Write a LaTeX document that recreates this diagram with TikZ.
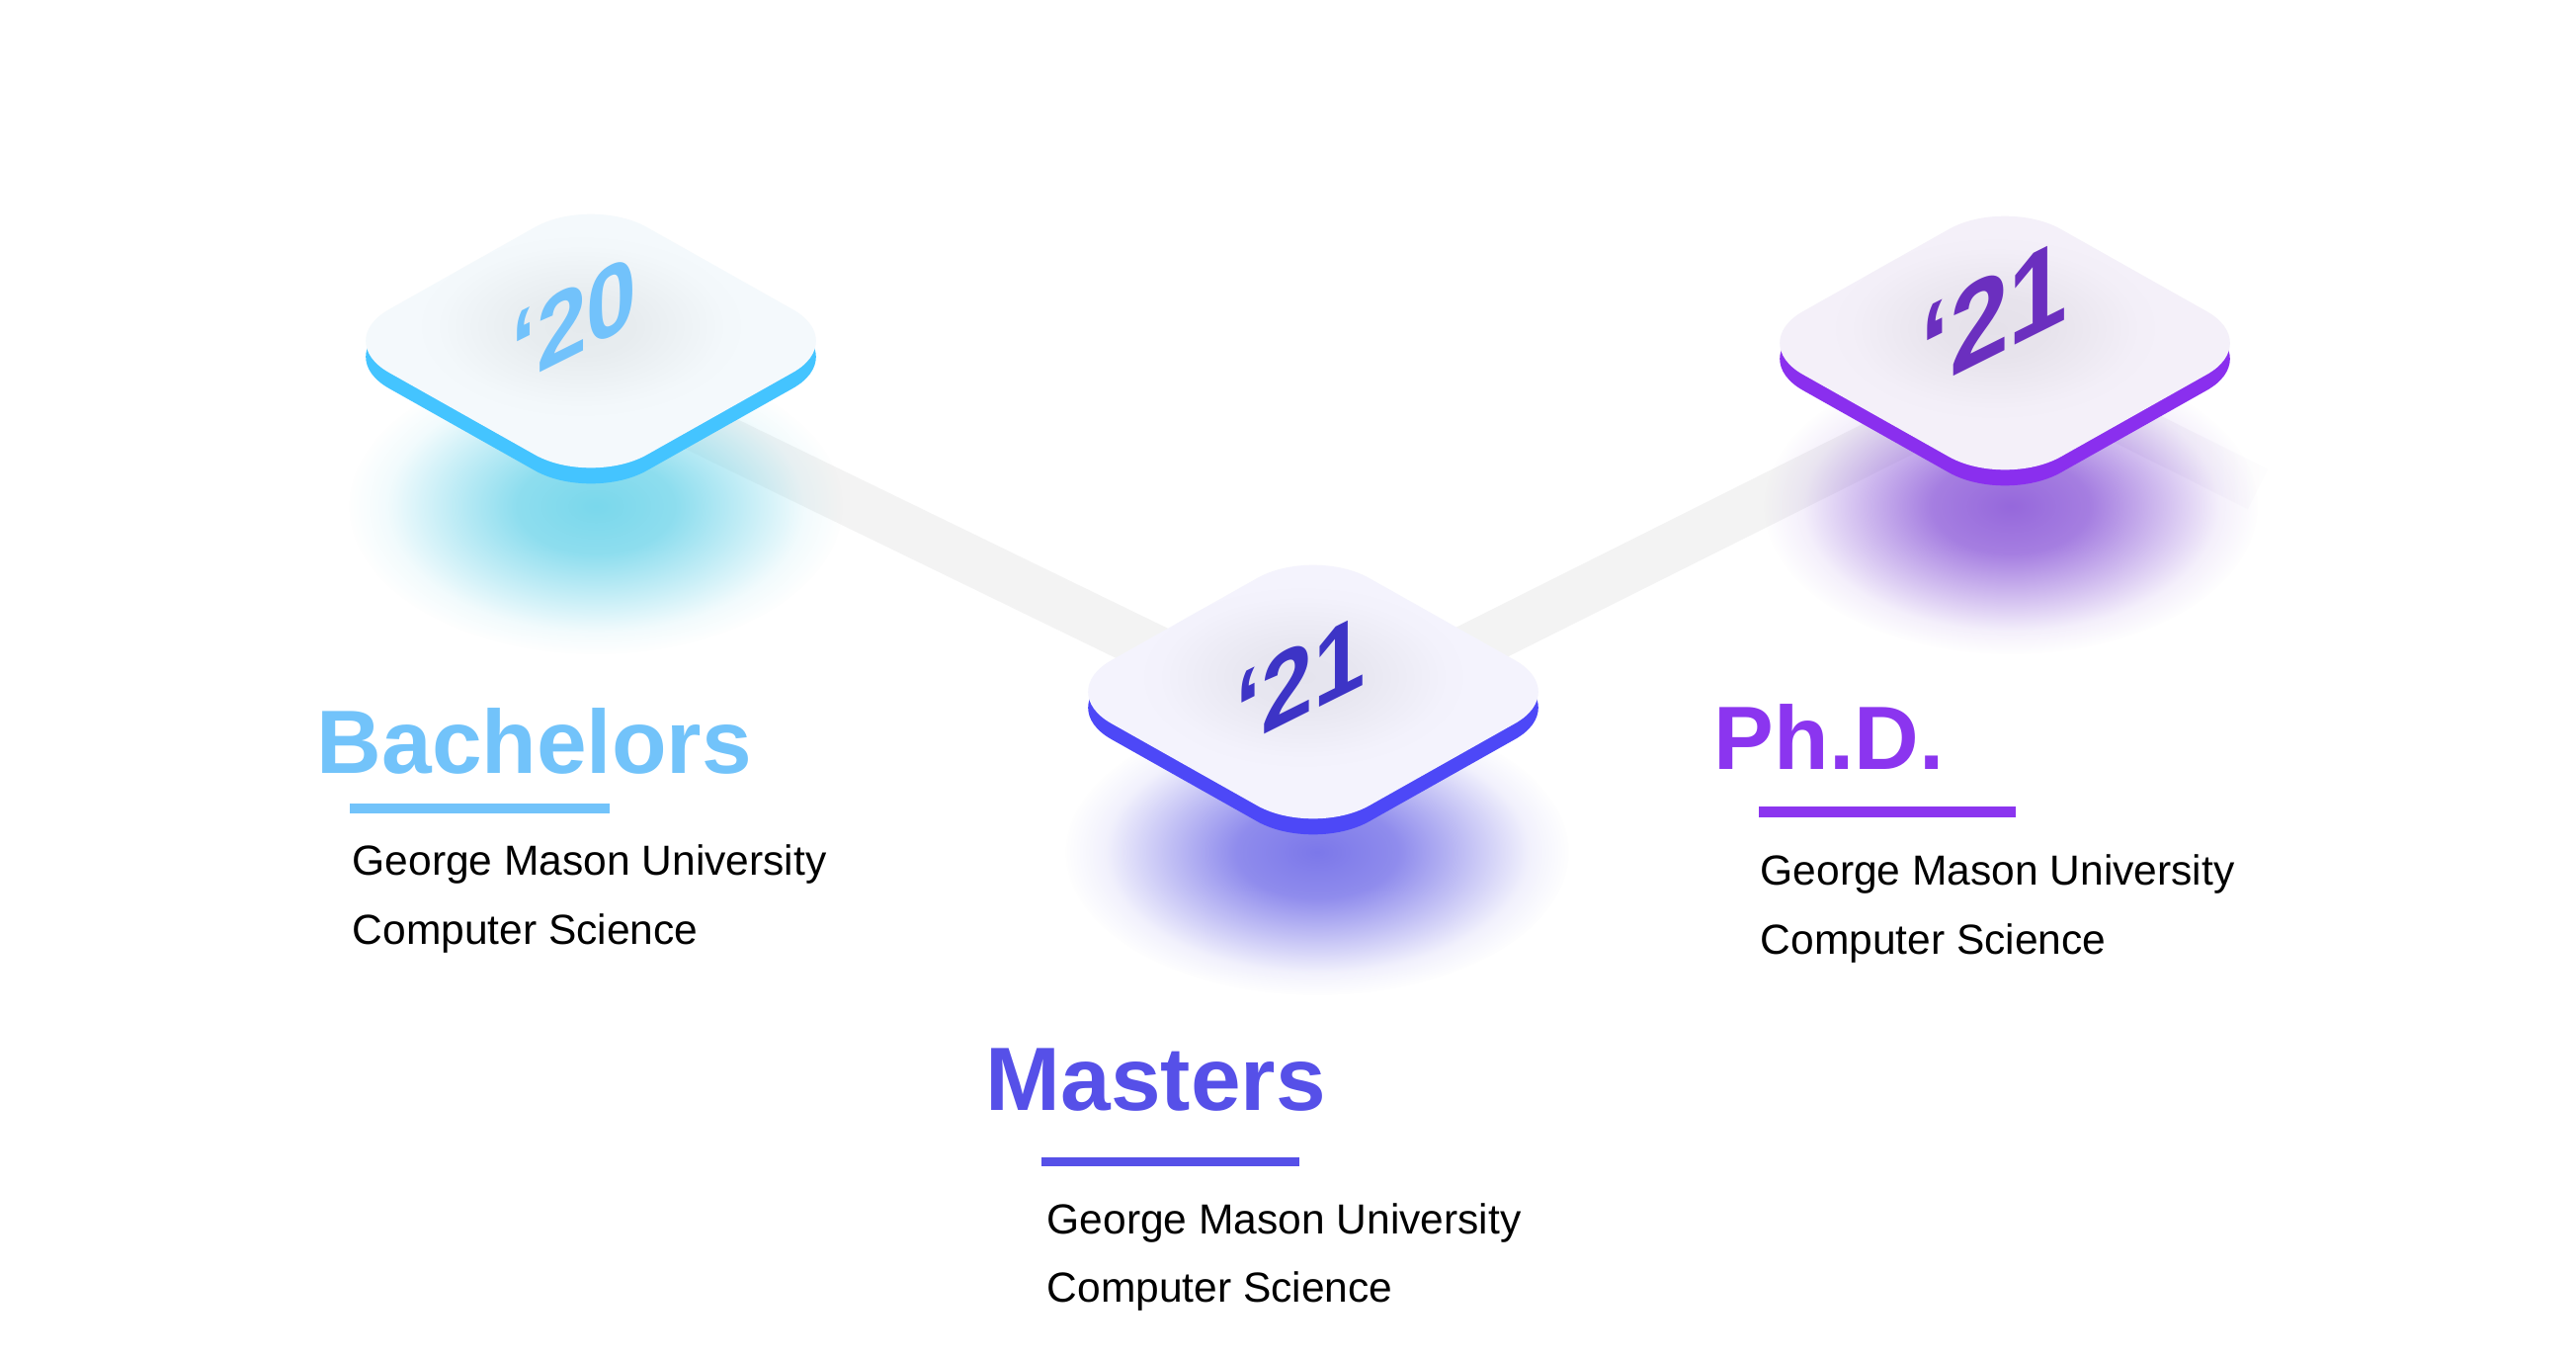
\documentclass[tikz,border=0pt]{standalone}
\usepackage{fontspec}
\setmainfont{Liberation Sans}
\usetikzlibrary{fadings}

\definecolor{bachC}{HTML}{72C3FA}
\definecolor{bachSide}{HTML}{44C4FF}
\definecolor{bachFace}{HTML}{F4F9FC}
\definecolor{bachGlow}{HTML}{7AD8EC}
\definecolor{bachYear}{HTML}{72C2FB}
\definecolor{mastC}{HTML}{5650E8}
\definecolor{mastSide}{HTML}{4D48F7}
\definecolor{mastFace}{HTML}{F4F3FD}
\definecolor{mastGlow}{HTML}{7C78EA}
\definecolor{mastYear}{HTML}{3D34C6}
\definecolor{phdC}{HTML}{8B35EF}
\definecolor{phdSide}{HTML}{8A2FEE}
\definecolor{phdFace}{HTML}{F4F0F9}
\definecolor{phdGlow}{HTML}{9668DC}
\definecolor{phdYear}{HTML}{6B2FBF}
\definecolor{bandC}{HTML}{F3F3F3}

\pgfdeclareradialshading{glowsh}{\pgfpointorigin}{color(0bp)=(white); color(8bp)=(white!85!black); color(15bp)=(white!45!black); color(21bp)=(white!10!black); color(25bp)=(black); color(50bp)=(black)}
\pgfdeclarefading{glowfade}{\pgfuseshading{glowsh}}
\tikzfading[name=fadeout, left color=transparent!0, right color=transparent!100]

\newcommand{\isoplate}[4]{%
  \fill[#4, rounded corners=6.5mm] (#1-130.5,#2-73.5+16) -- (#1,#2-147+16) -- (#1+261,#2+16) -- (#1,#2+147+16) -- (#1-261,#2+16) -- cycle;
  \fill[#3, rounded corners=6.5mm] (#1-130.5,#2-73.5) -- (#1,#2-147) -- (#1+261,#2) -- (#1,#2+147) -- (#1-261,#2) -- cycle;
  \fill[black, opacity=0.06, path fading=glowfade] (#1-10,#2-15) ellipse [x radius=170, y radius=95];
}

\begin{document}
\begin{tikzpicture}[x=0.1mm, y=-0.1mm,
  band/.style={draw=bandC, line width=5mm},
  head/.style={font=\bfseries\fontsize{25.9pt}{30pt}\selectfont, anchor=base west, inner sep=0pt},
  body/.style={font=\fontsize{12.1pt}{14pt}\selectfont, anchor=base west, inner sep=0pt, text=black},
  year/.style={font=\bfseries, inner sep=0pt, transform shape},
  glow/.style={path fading=glowfade}]
\useasboundingbox (0,0) rectangle (2607,1372);
\fill[white] (0,0) rectangle (2607,1372);

% floor points of the connectors
\coordinate (f1) at (598,380);
\coordinate (f2) at (1329,735);
\coordinate (f3) at (2029,385);
\coordinate (f3b) at (2029,367);
\coordinate (f4) at (2285,495);

\draw[band] (f1) -- (f2) -- (f3);
\draw[draw=bandC!90!phdGlow, line width=4.5mm, path fading=fadeout] (f3b) -- (f4);

% glows
\fill[bachGlow, glow] (603,512) ellipse [x radius=250, y radius=150];
\fill[mastGlow, glow] (1333,862) ellipse [x radius=255, y radius=145];
\fill[phdGlow, glow] (2035,512) ellipse [x radius=250, y radius=150];

% plates
\isoplate{598}{345}{bachFace}{bachSide}
\isoplate{1329}{700}{mastFace}{mastSide}
\isoplate{2029}{347}{phdFace}{phdSide}

\coordinate (d1) at (598,345);
\coordinate (d2) at (1329,700);
\coordinate (d3) at (2029,347);

% years
\begin{scope}[shift={(581,324)}, yslant=0.5, yscale=1.08, xscale=0.96]
  \node[year, font=\bfseries\fontsize{27pt}{30pt}\selectfont, text=bachYear] (y1) at (0,0) {‘20};
\end{scope}
\begin{scope}[shift={(1316,688)}, yslant=0.5, yscale=1.08, xscale=0.96]
  \node[year, font=\bfseries\fontsize{27.9pt}{30pt}\selectfont, text=mastYear] (y2) at (0,0) {‘21};
\end{scope}
\begin{scope}[shift={(2018,318)}, yslant=0.5, yscale=1.08, xscale=0.96]
  \node[year, font=\bfseries\fontsize{31.9pt}{34pt}\selectfont, text=phdYear] (y3) at (0,0) {‘21};
\end{scope}

% Bachelors
\node[head, text=bachC] (bach) at (320,782) {Bachelors};
\fill[bachC] (354,813) rectangle (617,823);
\node[body] (bach1) at (356,885) {George Mason University};
\node[body] (bach2) at (356,955) {Computer Science};

% Masters
\node[head, text=mastC] (mast) at (997,1123) {Masters};
\fill[mastC] (1054,1171) rectangle (1315,1180);
\node[body] (mast1) at (1059,1248) {George Mason University};
\node[body] (mast2) at (1059,1317) {Computer Science};

% PhD
\node[head, text=phdC] (phd) at (1734,778) {Ph.D.};
\fill[phdC] (1780,816) rectangle (2040,827);
\node[body] (phd1) at (1781,895) {George Mason University};
\node[body] (phd2) at (1781,965) {Computer Science};
\end{tikzpicture}
\end{document}
